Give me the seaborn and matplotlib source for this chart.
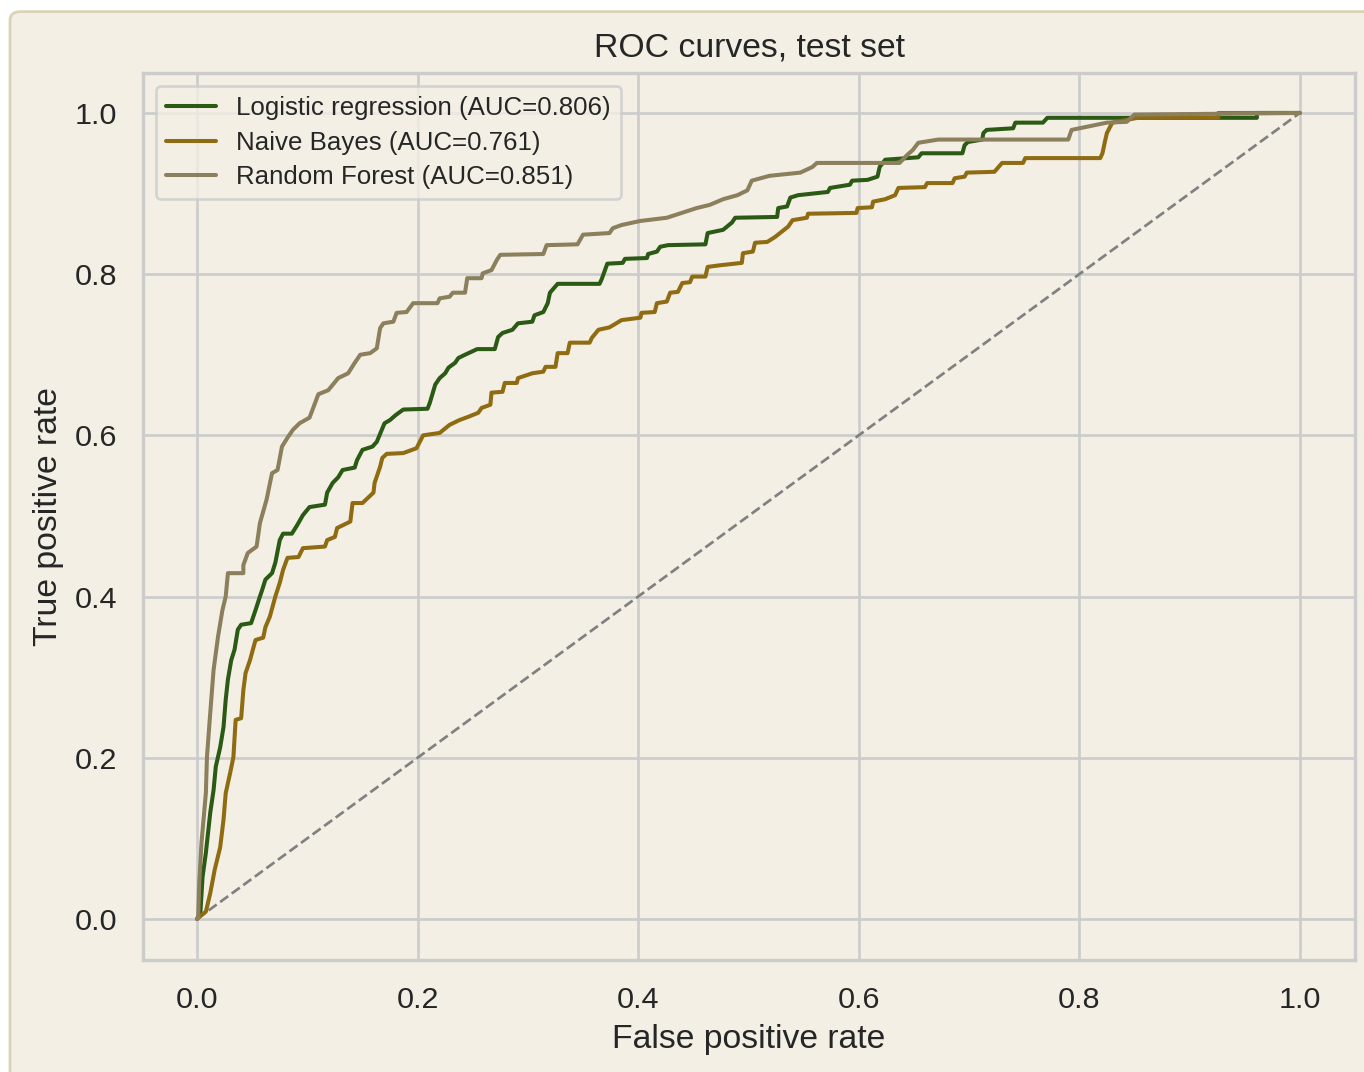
import numpy as np
import pandas as pd
import matplotlib
matplotlib.use("Agg")
import matplotlib.pyplot as plt
from matplotlib.patches import FancyBboxPatch
import seaborn as sns

# ---- data ----
models = ["Logistic regression", "Naive Bayes", "Random Forest"]
auc_values = [0.806, 0.761, 0.851]

lr_fpr = [0, .003, .005, .008, .012, .015, .017, .021, .024, .026, .028, .031, .034, .037, .040,
          .049, .053, .057, .059, .062, .068, .071, .075, .078, .086, .091, .096, .102, .116, .118,
          .123, .128, .132, .143, .145, .150, .159, .163, .170, .175, .180, .187, .209, .211, .216,
          .220, .225, .228, .234, .237, .243, .254, .270, .273, .277, .286, .291, .304, .306, .314,
          .318, .320, .327, .365, .367, .372, .386, .388, .408, .409, .417, .420, .427, .461, .463,
          .477, .485, .488, .526, .527, .535, .538, .545, .572, .574, .592, .594, .608, .617, .619,
          .624, .654, .657, .694, .696, .699, .712, .713, .716, .740, .742, .767, .771, .961, .961, 1.0]
lr_tpr = [0, .007, .052, .082, .132, .160, .189, .213, .238, .272, .297, .321, .334, .359, .365,
          .367, .383, .400, .408, .421, .429, .442, .470, .478, .478, .489, .501, .511, .514, .529,
          .541, .548, .557, .560, .569, .582, .586, .592, .615, .619, .625, .632, .633, .640, .663,
          .671, .677, .684, .690, .696, .700, .707, .707, .722, .727, .731, .739, .741, .749, .753,
          .764, .777, .788, .788, .794, .813, .814, .819, .820, .825, .828, .834, .836, .837, .851,
          .855, .864, .870, .871, .882, .884, .895, .898, .902, .907, .911, .916, .917, .921, .933,
          .942, .945, .950, .950, .960, .964, .967, .975, .979, .981, .988, .988, .994, .994, 1.0, 1.0]

nb_fpr = [0, .008, .012, .016, .021, .024, .026, .030, .033, .035, .040, .042, .044, .048, .051,
          .053, .060, .062, .066, .071, .075, .078, .082, .092, .096, .116, .118, .125, .127, .139,
          .141, .150, .160, .161, .166, .168, .172, .187, .199, .205, .220, .229, .238, .246, .255,
          .258, .266, .267, .277, .279, .290, .291, .304, .314, .316, .325, .327, .336, .338, .356,
          .358, .364, .374, .385, .402, .403, .415, .417, .426, .429, .436, .440, .447, .449, .461,
          .463, .474, .494, .495, .504, .506, .517, .524, .536, .540, .553, .554, .598, .599, .612,
          .613, .624, .633, .636, .660, .662, .685, .687, .696, .698, .723, .730, .749, .751, .819,
          .821, .823, .825, .828, .830, .853, .926, .926, 1.0]
nb_tpr = [0, .009, .032, .061, .089, .123, .156, .181, .201, .247, .249, .284, .305, .321, .336,
          .346, .349, .362, .375, .400, .417, .433, .448, .449, .460, .462, .470, .474, .485, .493,
          .516, .516, .529, .541, .561, .572, .577, .578, .584, .600, .603, .613, .619, .623, .628,
          .634, .638, .653, .654, .665, .665, .671, .677, .679, .685, .685, .702, .702, .715, .715,
          .721, .731, .734, .743, .746, .752, .753, .764, .766, .777, .778, .789, .790, .797, .797,
          .809, .811, .814, .826, .828, .839, .840, .846, .859, .867, .870, .875, .876, .882, .883,
          .890, .893, .898, .907, .908, .913, .913, .919, .921, .926, .927, .938, .938, .944, .944,
          .950, .963, .975, .983, .988, .994, .994, 1.0, 1.0]

rf_fpr = [0, .001, .002, .004, .008, .009, .012, .015, .019, .023, .026, .028, .042, .042, .046,
          .054, .057, .063, .068, .073, .077, .082, .087, .093, .102, .107, .110, .119, .128, .137,
          .143, .148, .157, .163, .166, .169, .178, .181, .190, .196, .218, .220, .229, .232, .243,
          .245, .258, .259, .267, .272, .275, .314, .317, .345, .350, .374, .377, .385, .402, .426,
          .453, .465, .477, .490, .499, .503, .519, .547, .558, .562, .637, .644, .649, .654, .672,
          .790, .793, .825, .843, .850, 1.0]
rf_tpr = [0, .001, .045, .094, .156, .201, .256, .309, .350, .383, .400, .429, .429, .439, .454,
          .462, .491, .520, .553, .557, .586, .597, .607, .615, .622, .640, .651, .656, .671, .677,
          .690, .700, .702, .708, .733, .739, .741, .752, .753, .764, .764, .770, .772, .777, .777,
          .795, .795, .801, .805, .818, .824, .825, .836, .837, .849, .851, .857, .861, .866, .870,
          .882, .886, .893, .898, .904, .916, .922, .926, .933, .938, .938, .948, .954, .963, .967,
          .967, .979, .988, .989, .998, 1.0]

diag = [0.0, 1.0]

colors = ["#2b5a14", "#8f6c12", "#8c7f5c"]

# ---- style ----
bg = "#f3efe5"
sns.set_theme(context="notebook", style="whitegrid",
              rc={"axes.facecolor": bg, "figure.facecolor": "white",
                  "grid.color": "#cccccc", "axes.edgecolor": "#cccccc",
                  "axes.linewidth": 1.25, "grid.linewidth": 1.0})
plt.rcParams["font.family"] = ["Liberation Sans", "DejaVu Sans"]

dpi = 194.4
fig = plt.figure(figsize=(1364 / dpi, 1072 / dpi), dpi=dpi)
W, H = 1364, 1072
panel = FancyBboxPatch((10 / W, -0.05), 1.2, (1072 + 54 - 12) / H,
                       boxstyle="round,pad=0,rounding_size=0.008",
                       transform=fig.transFigure, facecolor=bg,
                       edgecolor="#d9d3b4", linewidth=1.0, zorder=-10)
fig.patches.append(panel)

ax = fig.add_axes([143 / W, 1 - 960 / H, (1355 - 143) / W, (960 - 73) / H])

frames = []
for name, auc, fpr, tpr in zip(models, auc_values,
                               [lr_fpr, nb_fpr, rf_fpr], [lr_tpr, nb_tpr, rf_tpr]):
    frames.append(pd.DataFrame({"fpr": fpr, "tpr": tpr,
                                "model": f"{name} (AUC={auc:.3f})"}))
df = pd.concat(frames, ignore_index=True)

sns.lineplot(data=df, x="fpr", y="tpr", hue="model",
             estimator=None, sort=False, palette=colors, linewidth=1.5, ax=ax)
ax.plot(diag, diag, linestyle="--", color="gray", linewidth=1.0, zorder=1)

ax.set_xticks([0, 0.2, 0.4, 0.6, 0.8, 1.0])
ax.set_yticks([0, 0.2, 0.4, 0.6, 0.8, 1.0])
ax.set_xlim(-0.049, 1.05)
ax.set_ylim(-0.051, 1.0496)
ax.set_xlabel("False positive rate", fontsize=12.5)
ax.set_ylabel("True positive rate", fontsize=12.5)
ax.set_title("ROC curves, test set", fontsize=12.5)
ax.tick_params(labelsize=11.3, colors="#262626")
leg = ax.legend(loc="upper left", fontsize=9.6, frameon=True, facecolor=bg,
                edgecolor="#cccccc", framealpha=0.8, labelspacing=0.4,
                handlelength=1.9, handletextpad=0.8)
for line in leg.get_lines():
    line.set_linewidth(1.5)

fig.savefig("out.png", dpi=dpi, facecolor="white")
